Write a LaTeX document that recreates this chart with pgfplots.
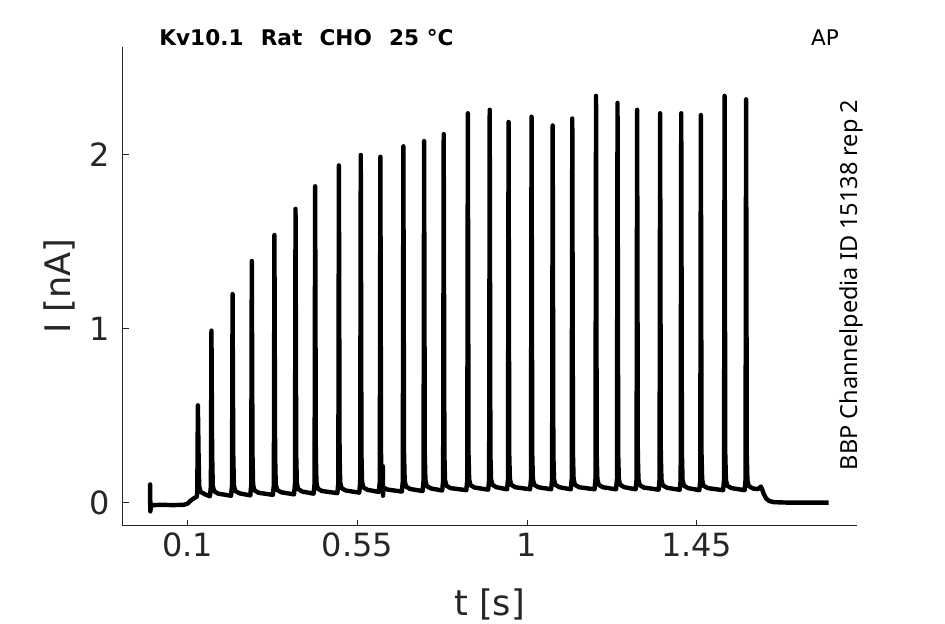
\documentclass[border=0pt]{standalone}
\usepackage{fontspec}
\setmainfont{DejaVu Sans}
\newfontfamily\notosans{Noto Sans}
\usepackage{pgfplots}
\usepackage{pgfplotstable}
\pgfplotsset{compat=1.18}
\definecolor{axgray}{RGB}{38,38,38}

\pgfplotstableread{
t I
0.000 -0.015
0.0005 0.105
0.001 -0.050
0.0025 -0.015
0.030 -0.012
0.060 -0.014
0.090 -0.012
0.100 -0.005
0.108 0.012
0.116 0.025
0.1245 0.035
0.1255 0.080
0.127 0.56
0.1288 0.28
0.1305 0.095
0.134 0.063
0.145 0.049
0.159 0.037
0.1615 0.095
0.163 0.99
0.1648 0.28
0.1665 0.098
0.170 0.066
0.181 0.052
0.215 0.040
0.2175 0.098
0.219 1.20
0.2208 0.28
0.2225 0.100
0.226 0.068
0.237 0.054
0.266 0.042
0.2685 0.100
0.270 1.39
0.2718 0.28
0.2735 0.103
0.277 0.071
0.288 0.057
0.326 0.045
0.3285 0.103
0.330 1.54
0.3318 0.28
0.3335 0.106
0.337 0.074
0.348 0.060
0.382 0.048
0.3845 0.106
0.386 1.69
0.3878 0.28
0.3895 0.110
0.393 0.078
0.404 0.064
0.434 0.052
0.4365 0.110
0.438 1.82
0.4398 0.28
0.4415 0.113
0.445 0.081
0.456 0.067
0.497 0.055
0.4995 0.113
0.501 1.94
0.5028 0.28
0.5045 0.116
0.508 0.084
0.519 0.070
0.555 0.058
0.5575 0.116
0.559 2.00
0.5608 0.28
0.5625 0.120
0.566 0.088
0.577 0.074
0.607 0.062
0.6095 0.120
0.611 1.99
0.6128 0.28
0.6145 0.122
0.6165 0.095
0.6175 0.210
0.618 0.040
0.619 0.088
0.629 0.076
0.668 0.064
0.6705 0.122
0.672 2.05
0.6738 0.28
0.6755 0.125
0.679 0.093
0.690 0.079
0.723 0.067
0.7255 0.125
0.727 2.08
0.7288 0.28
0.7305 0.128
0.734 0.096
0.745 0.082
0.775 0.070
0.7775 0.128
0.779 2.12
0.7808 0.28
0.7825 0.130
0.786 0.098
0.797 0.084
0.839 0.072
0.8415 0.130
0.843 2.24
0.8448 0.28
0.8465 0.133
0.850 0.101
0.861 0.087
0.897 0.075
0.8995 0.133
0.901 2.26
0.9028 0.28
0.9045 0.135
0.908 0.103
0.919 0.089
0.947 0.077
0.9495 0.135
0.951 2.19
0.9528 0.28
0.9545 0.135
0.958 0.103
0.969 0.089
1.008 0.077
1.0105 0.135
1.012 2.22
1.0138 0.28
1.0155 0.135
1.019 0.103
1.030 0.089
1.064 0.077
1.0665 0.135
1.068 2.17
1.0698 0.28
1.0715 0.135
1.075 0.103
1.086 0.089
1.116 0.077
1.1185 0.135
1.120 2.21
1.1218 0.28
1.1235 0.135
1.127 0.103
1.138 0.089
1.179 0.077
1.1815 0.135
1.183 2.34
1.1848 0.28
1.1865 0.135
1.190 0.103
1.201 0.089
1.236 0.077
1.2385 0.135
1.240 2.30
1.2418 0.28
1.2435 0.135
1.247 0.103
1.258 0.089
1.288 0.077
1.2905 0.135
1.292 2.26
1.2938 0.28
1.2955 0.133
1.299 0.101
1.310 0.087
1.349 0.075
1.3515 0.133
1.353 2.24
1.3548 0.28
1.3565 0.132
1.360 0.100
1.371 0.086
1.405 0.074
1.4075 0.132
1.409 2.24
1.4108 0.28
1.4125 0.130
1.416 0.098
1.427 0.084
1.457 0.072
1.4595 0.130
1.461 2.23
1.4628 0.28
1.4645 0.130
1.468 0.098
1.479 0.084
1.520 0.072
1.5225 0.130
1.524 2.34
1.5258 0.28
1.5275 0.130
1.531 0.098
1.542 0.084
1.577 0.072
1.5795 0.130
1.581 2.32
1.5828 0.28
1.5845 0.128
1.588 0.096
1.599 0.082
1.612 0.078
1.617 0.086
1.620 0.093
1.623 0.080
1.628 0.050
1.634 0.025
1.642 0.010
1.655 0.003
1.700 0.000
1.750 0.000
1.800 0.000
}\trace

\begin{document}
\begin{tikzpicture}
\path[use as bounding box] (-61.35pt,-49.15pt) rectangle (411.15pt,262.85pt);
\begin{axis}[
  scale only axis, width=367pt, height=239.5pt,
  xmin=-0.0724, xmax=1.8744, ymin=-0.1323, ymax=2.623,
  axis lines*=left,
  axis line style={axgray, line width=0.5pt},
  xtick={0.1,0.55,1,1.45}, xticklabels={0.1,0.55,1,1.45},
  ytick={0,1,2}, yticklabels={0,1,2},
  tick align=inside, major tick length=3pt,
  tick style={axgray, line width=0.5pt},
  ticklabel style={font=\fontsize{16}{19}\selectfont, text=axgray},
  yticklabel style={xshift=-3pt},
  /pgf/number format/assume math mode=true,
  xlabel={t [s]}, ylabel={I [nA]},
  label style={font=\fontsize{17.6}{21}\selectfont, text=axgray},
  xlabel style={yshift=-9pt},
]
\addplot[black, line width=2.2pt, line join=round] table[x=t, y=I] {\trace};
\end{axis}
\node[anchor=base west, inner sep=0pt, font=\fontsize{10.8}{13}\selectfont\bfseries] at (18.15pt,239.85pt) {Kv10.1\hspace{0.8em}Rat\hspace{0.8em}CHO\hspace{0.8em}25 °C};
\node[anchor=base, inner sep=0pt, font=\fontsize{10.8}{13}\selectfont] at (351.15pt,239.85pt) {AP};
\node[rotate=90, anchor=center, inner sep=0pt, font=\notosans\fontsize{11.75}{13}\selectfont] at (364.4pt,120.35pt) {BBP Channelpedia ID 15138 rep 2};
\end{tikzpicture}
\end{document}
